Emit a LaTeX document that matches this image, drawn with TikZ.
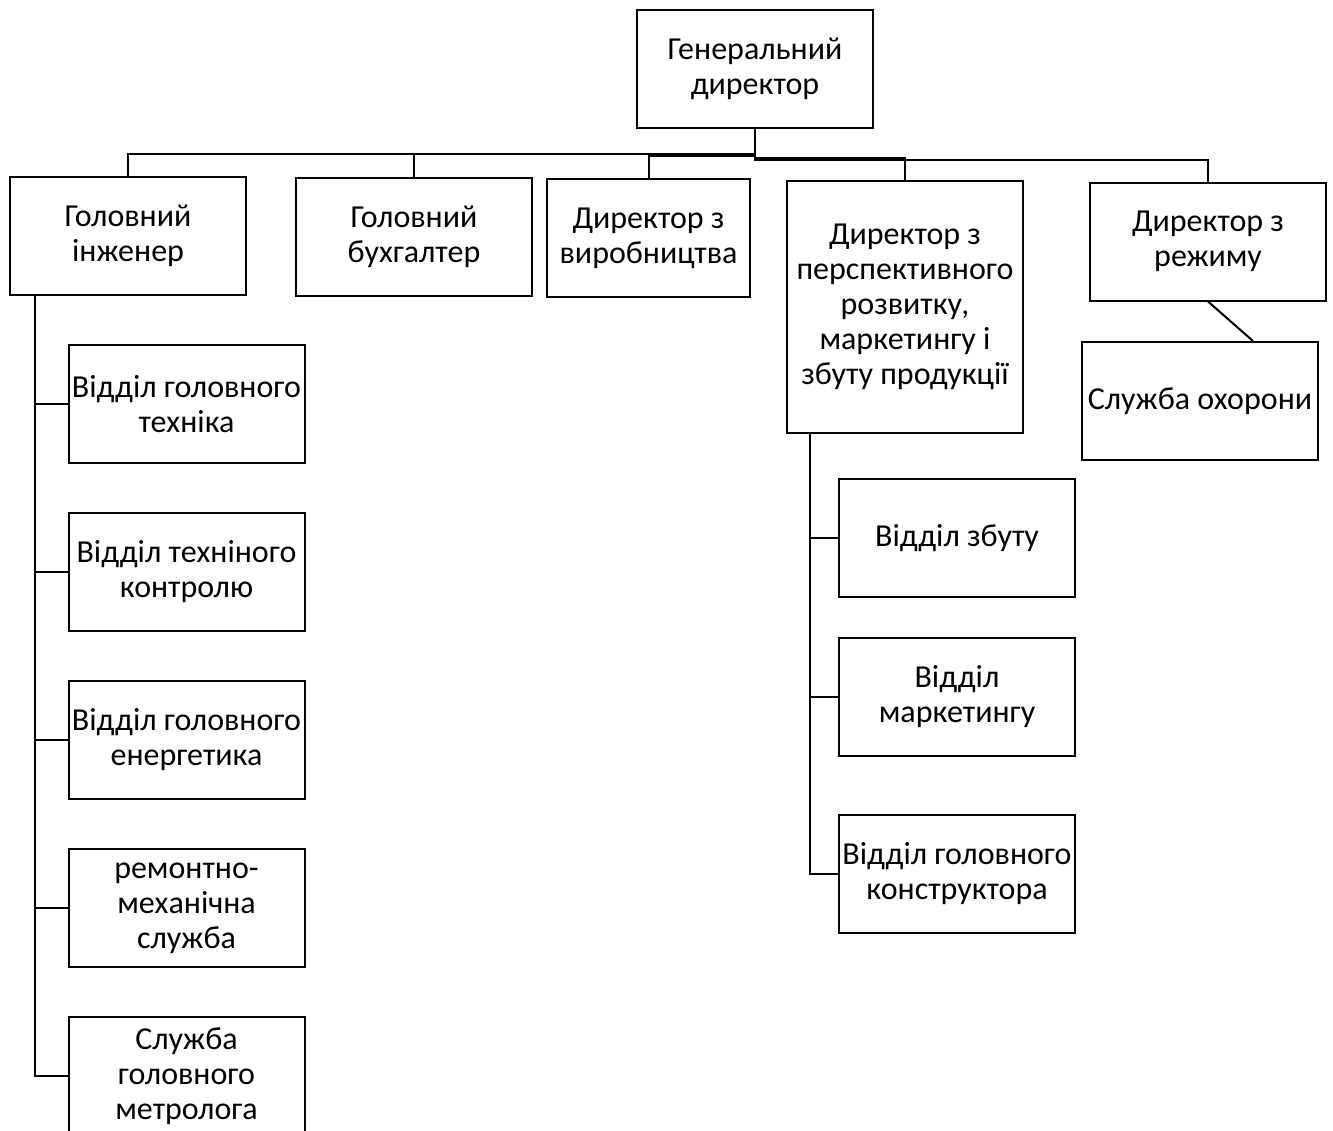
\documentclass[tikz,border=0pt]{standalone}
\usepackage{fontspec}
\setmainfont{Carlito}
\usetikzlibrary{positioning}

\begin{document}
\begin{tikzpicture}[x=0.5pt, y=-0.5pt,
      box/.style={draw, line width=1pt, align=center, minimum width=118pt, minimum height=59pt, inner sep=1pt, font=\fontsize{16}{17.5}\selectfont},
      link/.style={line width=1pt}
    ]
      \useasboundingbox (0,0) rectangle (1333,1130);
      % top level
      \node[box] (gen) at (755,68.5) {Генеральний\\директор};
      \node[box] (eng) at (128,236) {Головний\\інженер};
      \node[box] (acc) at (414,236.5) {Головний\\бухгалтер};
      \node[box, minimum width=101.5pt] (prod) at (648.5,238) {Директор з\\виробництва};
      \node[box, minimum height=126pt] (dev) at (905,307) {Директор з\\перспективного\\розвитку,\\маркетингу і\\збуту продукції};
      \node[box] (reg) at (1208,241.5) {Директор з\\режиму};
      \node[box] (sec) at (1200,401) {Служба охорони};
      % engineer departments
      \node[box] (tech) at (186.5,404) {Відділ головного\\техніка};
      \node[box] (qc) at (186.5,572) {Відділ техніного\\контролю};
      \node[box] (energ) at (186.5,740) {Відділ головного\\енергетика};
      \node[box] (repair) at (186.5,908) {ремонтно-\\механічна\\служба};
      \node[box] (metr) at (186.5,1076) {Служба\\головного\\метролога};
      % development departments
      \node[box] (sales) at (957,538) {Відділ збуту};
      \node[box] (mkt) at (957,697) {Відділ\\маркетингу};
      \node[box] (design) at (957,874) {Відділ головного\\конструктора};
      % bus from the director
      \draw[link] (gen.south) -- ++(0,25) -| (eng.north);
      \draw[link] (gen.south) -- ++(0,25) -| (acc.north);
      \draw[link] (gen.south) -- ++(0,27) -| (prod.north);
      \draw[link] (gen.south) -- ++(0,29) -| (dev.north);
      \draw[link] (gen.south) -- ++(0,31) -| (reg.north);
      \draw[link] (reg.south) -- ([xshift=26.5pt]sec.north);
      % trunks
      \coordinate (engtrunk) at (35,295);
      \coordinate (devtrunk) at (810,433);
      \draw[link] (engtrunk) |- (metr.west);
      \foreach \n in {tech,qc,energ,repair}
        \draw[link] (engtrunk |- \n.west) -- (\n.west);
      \draw[link] (devtrunk) |- (design.west);
      \foreach \n in {sales,mkt}
        \draw[link] (devtrunk |- \n.west) -- (\n.west);
    \end{tikzpicture}
\end{document}
